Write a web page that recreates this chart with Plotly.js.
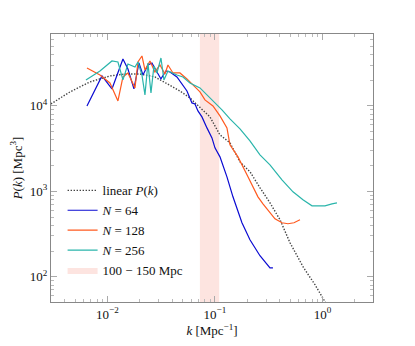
<!DOCTYPE html>
<html>
<head>
<meta charset="utf-8">
<script src="https://cdn.plot.ly/plotly-3.0.1.min.js"></script>
<style>
  html, body { margin: 0; padding: 0; background: #fff; }
  #chart { width: 415px; height: 346px; }
</style>
</head>
<body>
<div id="chart"></div>
<script>
// linear power spectrum
const kLin = [0.00298, 0.00448, 0.00687, 0.01055, 0.01456, 0.02005, 0.02767, 0.0381, 0.0472, 0.0585,
              0.0725, 0.0898, 0.1113, 0.138, 0.171, 0.212, 0.2625, 0.325, 0.403, 0.499, 0.659, 0.852, 1.055, 1.31];
const pLin = [10550, 14580, 19100, 22440, 23660, 23660, 21830, 17620, 14970, 12400,
              9480, 7440, 4580, 3690, 2210, 1690, 1099, 733, 464, 250, 131, 80.6, 51, 33];

// N = 64
const k64 = [0.00645, 0.00889, 0.01101, 0.01394, 0.01551, 0.01764, 0.01963, 0.02139, 0.0238, 0.02594,
             0.02887, 0.03146, 0.03501, 0.03815, 0.0443, 0.05039, 0.05489, 0.06109, 0.06516, 0.06948,
             0.07569, 0.08424, 0.09378, 0.1, 0.1113, 0.1293, 0.147, 0.1783, 0.2116, 0.2622, 0.3047, 0.3248, 0.3463];
const p64 = [10000, 22430, 15800, 35450, 27080, 15800, 31830, 23040, 30160, 31830,
             24980, 20700, 25670, 24980, 21840, 17600, 14980, 10840, 10550, 8740,
             7436, 5529, 4224, 3227, 2532, 1478, 862, 428, 271, 176, 142, 127, 127];

// N = 128
const k128 = [0.00645, 0.00852, 0.01055, 0.01252, 0.01394, 0.01551, 0.01803, 0.01922, 0.02094, 0.02233,
              0.02485, 0.02766, 0.03079, 0.03427, 0.03655, 0.04068, 0.04724, 0.05489, 0.06516, 0.07253,
              0.08072, 0.09581, 0.1113, 0.1293, 0.1379, 0.1637, 0.2028, 0.2512, 0.2796, 0.3248,
              0.3615, 0.4201, 0.4776, 0.5431, 0.6175];
const p128 = [27820, 23040, 18580, 11440, 21840, 24320, 16230, 32700, 38430, 26370,
              33600, 24980, 30160, 23680, 30160, 24320, 24320, 20700, 16680, 14580,
              11750, 10000, 7640, 5529, 3499, 2532, 1478, 862, 714, 560,
              477, 428, 417, 428, 464];

// N = 256
const k256 = [0.00631, 0.00852, 0.01101, 0.01252, 0.01394, 0.01551, 0.01803, 0.01922, 0.02094, 0.02233,
              0.0238, 0.0254, 0.02707, 0.02887, 0.03146, 0.03353, 0.03655, 0.03981, 0.0443, 0.05039,
              0.05853, 0.07253, 0.08072, 0.08984, 0.1, 0.1162, 0.1379, 0.1709, 0.2116, 0.2622,
              0.3248, 0.4201, 0.5316, 0.6584, 0.7988, 0.9081, 1.055, 1.226, 1.364];
const p256 = [20150, 25670, 33600, 32700, 20150, 30990, 28580, 32700, 23040, 13450,
              31830, 14190, 29370, 24320, 36420, 20150, 25670, 24320, 23040, 21840,
              18580, 16230, 14190, 12410, 10840, 8980, 7047, 5383, 3896, 2673,
              2041, 1363, 987, 796, 677, 677, 677, 714, 734];

// shaded scale band, 100 - 150 Mpc
const bandK = [0.0725, 0.1095];

// tick labels
const xTickVals = [0.01, 0.1, 1];
const xTickText = ['10<sup>−2</sup>', '10<sup>−1</sup>', '10<sup>0</sup>'];
const yTickVals = [100, 1000, 10000];
const yTickText = ['10<sup>2</sup>', '10<sup>3</sup>', '10<sup>4</sup>'];

// minor log ticks 2..9 per decade
function minorTicks(lo, hi) {
  const out = [];
  for (let e = lo; e <= hi; e++) {
    for (let m = 2; m <= 9; m++) out.push(m * Math.pow(10, e));
  }
  return out;
}

const serif = 'Liberation Serif, DejaVu Serif, serif';

const traces = [
  {
    x: [bandK[0], bandK[1], bandK[1], bandK[0], bandK[0]],
    y: [1e-3, 1e-3, 1e8, 1e8, 1e-3],
    mode: 'lines', fill: 'toself', fillcolor: 'rgba(252,214,208,0.65)',
    line: { width: 0, color: 'rgba(252,214,208,0.65)' },
    name: '100 − 150 Mpc', legendrank: 5, hoverinfo: 'skip'
  },
  {
    x: kLin, y: pLin, mode: 'lines', name: 'linear <i>P</i>(<i>k</i>)',
    line: { color: '#444', width: 1.4, dash: '1.4px,1.6px' }, legendrank: 1
  },
  {
    x: k64, y: p64, mode: 'lines', name: '<i>N</i> = 64',
    line: { color: '#0a0ad2', width: 1.2 }, legendrank: 2
  },
  {
    x: k128, y: p128, mode: 'lines', name: '<i>N</i> = 128',
    line: { color: '#ff5a1f', width: 1.2 }, legendrank: 3
  },
  {
    x: k256, y: p256, mode: 'lines', name: '<i>N</i> = 256',
    line: { color: '#2ab5ab', width: 1.2 }, legendrank: 4
  }
];

const axisCommon = {
  type: 'log',
  tickmode: 'array',
  showgrid: false,
  zeroline: false,
  showline: true,
  linecolor: '#888',
  linewidth: 1,
  mirror: 'allticks',
  ticks: 'inside',
  ticklen: 6,
  tickcolor: '#aaa',
  tickfont: { family: serif, size: 13, color: '#111' }
};

const layout = {
  width: 415,
  height: 346,
  margin: { l: 51, r: 42, t: 34, b: 44 },
  paper_bgcolor: '#fff',
  plot_bgcolor: '#fff',
  font: { family: serif, size: 13, color: '#111' },
  showlegend: true,
  legend: {
    x: 0.036, y: 0.062, xanchor: 'left', yanchor: 'bottom',
    bgcolor: 'rgba(255,255,255,0)', borderwidth: 0,
    font: { family: serif, size: 13, color: '#111' },
    traceorder: 'normal', tracegroupgap: 0
  },
  xaxis: Object.assign({}, axisCommon, {
    range: [-2.525, 0.47],
    tickvals: xTickVals, ticktext: xTickText,
    minor: { tickmode: 'array', tickvals: minorTicks(-3, 0), ticks: 'inside', ticklen: 3, tickcolor: '#bbb', showgrid: false },
    title: { text: '<i>k</i> [Mpc<sup>−1</sup>]', font: { family: serif, size: 13 }, standoff: 4 }
  }),
  yaxis: Object.assign({}, axisCommon, {
    range: [1.704, 4.842],
    tickvals: yTickVals, ticktext: yTickText,
    minor: { tickmode: 'array', tickvals: minorTicks(1, 4), ticks: 'inside', ticklen: 3, tickcolor: '#bbb', showgrid: false },
    title: { text: '<i>P</i>(<i>k</i>) [Mpc<sup>3</sup>]', font: { family: serif, size: 13 }, standoff: 4 }
  })
};

Plotly.newPlot('chart', traces, layout, { displayModeBar: false, staticPlot: true });
</script>
</body>
</html>
